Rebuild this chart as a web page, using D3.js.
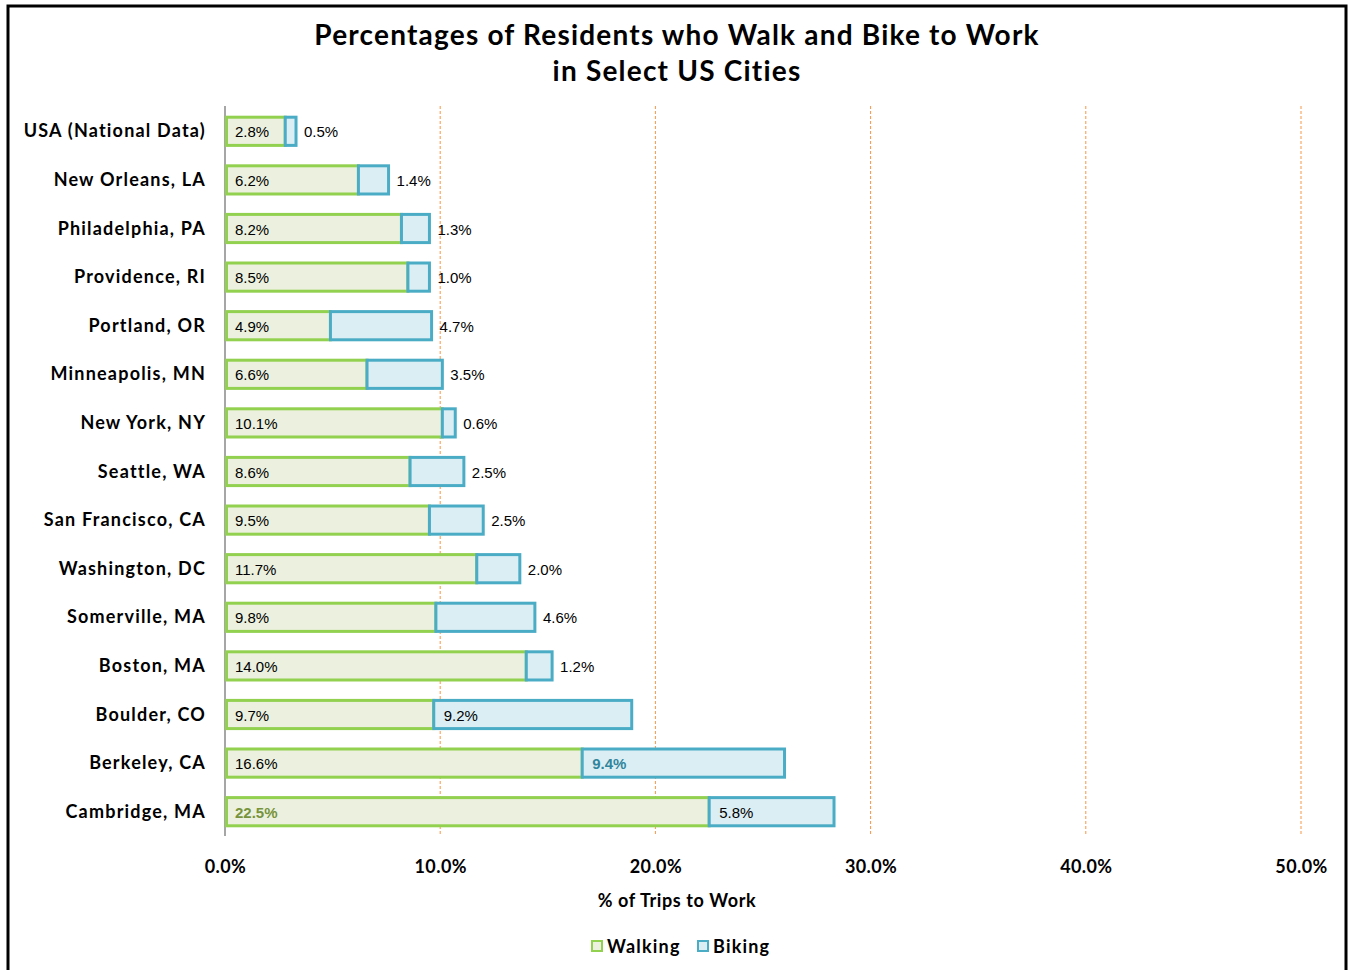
<!DOCTYPE html>
<html>
<head>
<meta charset="utf-8">
<script src="https://cdn.jsdelivr.net/npm/d3@7"></script>
<style>
  body { margin: 0; background: #fff; }
  .cat, .tick text, .axisTitle, .legend text, .chartTitle { font-family: Lato, "Noto Sans", sans-serif; font-weight: bold; fill: #000; }
  .val { font-family: "Liberation Sans", Arial, sans-serif; font-size: 15px; fill: #000; }
</style>
</head>
<body>
<div id="chart"></div>
<script>
const cities = ['USA (National Data)', 'New Orleans, LA', 'Philadelphia, PA', 'Providence, RI', 'Portland, OR',
  'Minneapolis, MN', 'New York, NY', 'Seattle, WA', 'San Francisco, CA', 'Washington, DC',
  'Somerville, MA', 'Boston, MA', 'Boulder, CO', 'Berkeley, CA', 'Cambridge, MA']
const walking = [2.8, 6.2, 8.2, 8.5, 4.9, 6.6, 10.1, 8.6, 9.5, 11.7, 9.8, 14.0, 9.7, 16.6, 22.5]
const biking = [0.5, 1.4, 1.3, 1.0, 4.7, 3.5, 0.6, 2.5, 2.5, 2.0, 4.6, 1.2, 9.2, 9.4, 5.8]
const xTicks = [0, 10, 20, 30, 40, 50]

const W = 1348, H = 970
const margin = { top: 107, left: 225, right: 47, bottom: 134 }
const width = W - margin.left - margin.right
const height = H - margin.top - margin.bottom

const svg = d3.select('#chart').append('svg')
  .attr('width', W)
  .attr('height', H)

// frame
svg.append('rect')
  .attr('x', 8).attr('y', 6)
  .attr('width', 1338).attr('height', 980)
  .attr('fill', 'none')
  .attr('stroke', '#000')
  .attr('stroke-width', 3)

svg.append('text')
  .attr('class', 'chartTitle')
  .attr('x', 677)
  .attr('text-anchor', 'middle')
  .style('font-size', '28px')
  .style('letter-spacing', '1.2px')
  .selectAll('tspan')
  .data(['Percentages of Residents who Walk and Bike to Work', 'in Select US Cities'])
  .enter()
  .append('tspan')
    .attr('x', 677)
    .attr('y', (d, i) => 45 + i * 36)
    .text(d => d)

const g = svg.append('g')
  .attr('transform', `translate(${margin.left}, ${margin.top})`)

const x = d3.scaleLinear().domain([0, 50]).range([0, width])
const y = d3.scaleBand().domain(cities).range([0, height]).paddingInner(0.42).paddingOuter(0.21)

// dashed gridlines
g.selectAll('.grid').data(xTicks.slice(1))
  .enter()
  .append('line')
    .attr('x1', d => x(d)).attr('x2', d => x(d))
    .attr('y1', -1).attr('y2', height)
    .attr('stroke', '#f79646')
    .attr('stroke-dasharray', '3,2')
    .attr('stroke-width', 1)

g.append('line')
  .attr('x1', 0).attr('x2', 0)
  .attr('y1', -1).attr('y2', height)
  .attr('stroke', '#a6a6a6')
  .attr('stroke-width', 2)

const rows = cities.map((c, i) => ({ city: c, walk: walking[i], bike: biking[i] }))

g.selectAll('.walk').data(rows)
  .enter()
  .append('rect')
    .attr('x', x(0) + 1.5)
    .attr('y', d => y(d.city))
    .attr('width', d => x(d.walk) - x(0) - 1.5)
    .attr('height', y.bandwidth())
    .attr('fill', '#ebf1de')
    .attr('stroke', '#92d050')
    .attr('stroke-width', 3)

g.selectAll('.bike').data(rows)
  .enter()
  .append('rect')
    .attr('x', d => x(d.walk))
    .attr('y', d => y(d.city))
    .attr('width', d => x(d.walk + d.bike) - x(d.walk))
    .attr('height', y.bandwidth())
    .attr('fill', '#dbeef4')
    .attr('stroke', '#4bacc6')
    .attr('stroke-width', 3)

const cy = d => y(d.city) + y.bandwidth() / 2 + 6

g.selectAll('.walkLabel').data(rows)
  .enter()
  .append('text')
    .attr('class', 'val')
    .attr('x', 10)
    .attr('y', cy)
    .style('fill', d => d.city === 'Cambridge, MA' ? '#77933c' : '#000')
    .style('font-weight', d => d.city === 'Cambridge, MA' ? 'bold' : 'normal')
    .text(d => d.walk.toFixed(1) + '%')

// bike labels sit inside the segment when it is wide enough
const inside = d => d.bike > 5
g.selectAll('.bikeLabel').data(rows)
  .enter()
  .append('text')
    .attr('class', 'val')
    .attr('x', d => inside(d) ? x(d.walk) + 10 : x(d.walk + d.bike) + 8)
    .attr('y', cy)
    .style('fill', d => d.city === 'Berkeley, CA' ? '#31859c' : '#000')
    .style('font-weight', d => d.city === 'Berkeley, CA' ? 'bold' : 'normal')
    .text(d => d.bike.toFixed(1) + '%')

g.selectAll('.cat').data(cities)
  .enter()
  .append('text')
    .attr('class', 'cat')
    .attr('x', -19)
    .attr('y', d => y(d) + y.bandwidth() / 2 + 6)
    .attr('text-anchor', 'end')
    .style('font-size', '18px')
    .style('letter-spacing', '1.2px')
    .text(d => d)

const xAxis = g.append('g')
  .attr('transform', `translate(0, ${height})`)
  .call(d3.axisBottom(x).tickValues(xTicks).tickSize(0).tickPadding(24).tickFormat(d => d.toFixed(1) + '%'))
xAxis.select('.domain').remove()
xAxis.selectAll('text').style('font-size', '18px').style('letter-spacing', '0.4px').attr('font-family', null)

svg.append('text')
  .attr('class', 'axisTitle')
  .attr('x', 677).attr('y', 907)
  .attr('text-anchor', 'middle')
  .style('font-size', '18px')
  .style('letter-spacing', '0.6px')
  .text('% of Trips to Work')

const legendItems = [
  { name: 'Walking', fill: '#ebf1de', stroke: '#92d050', x: 592 },
  { name: 'Biking', fill: '#dbeef4', stroke: '#4bacc6', x: 698 }
]
const legend = svg.append('g').attr('class', 'legend')
legend.selectAll('rect').data(legendItems)
  .enter()
  .append('rect')
    .attr('x', d => d.x).attr('y', 941)
    .attr('width', 10).attr('height', 10)
    .attr('fill', d => d.fill)
    .attr('stroke', d => d.stroke)
    .attr('stroke-width', 2)
legend.selectAll('text').data(legendItems)
  .enter()
  .append('text')
    .attr('x', d => d.x + 15).attr('y', 953)
    .style('font-size', '18px')
    .style('letter-spacing', '1.2px')
    .text(d => d.name)
</script>
</body>
</html>
